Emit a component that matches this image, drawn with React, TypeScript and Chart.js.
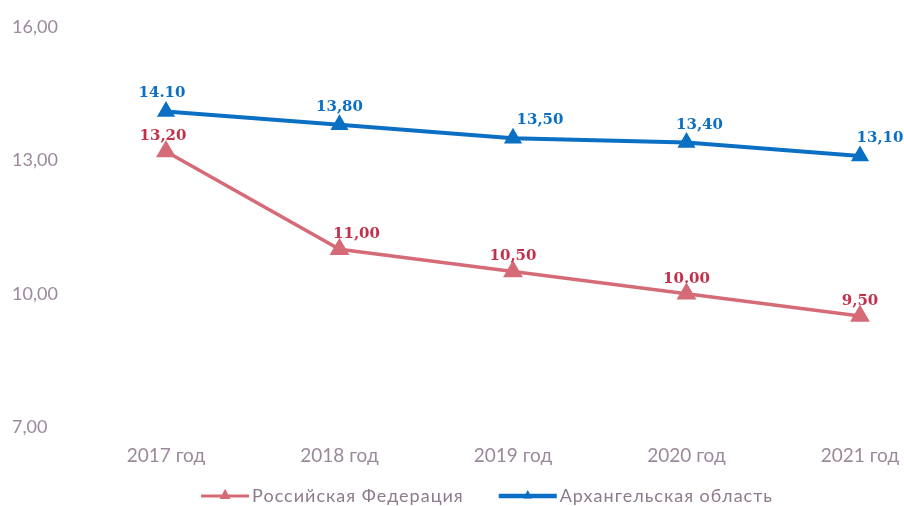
import React, { useEffect, useRef } from "react";
import { Chart, registerables } from "chart.js";

Chart.register(...registerables);

const categories = ["2017 год", "2018 год", "2019 год", "2020 год", "2021 год"];
const seriesRF = [13.2, 11.0, 10.5, 10.0, 9.5];
const seriesArh = [14.1, 13.8, 13.5, 13.4, 13.1];
const labelsRF = ["13,20", "11,00", "10,50", "10.00", "9,50"];
const labelsArh = ["14.10", "13,80", "13,50", "13,40", "13,10"];
const yTicks = [7, 10, 13, 16];
const yTickLabels = ["7,00", "10,00", "13,00", "16,00"];
const seriesNames = ["Российская Федерация", "Архангельская область"];

const RED_LINE = "#d66b78";
const RED_TEXT = "#c2314c";
const BLUE = "#0b6fc4";
const AXIS_TEXT = "#9a899a";

const labelStyle = [
  { color: RED_TEXT, dy: -15, dx: [-3, 17, 0, 0, 0] },
  { color: BLUE, dy: -18, dx: [-4, 0, 27, 13, 20] },
];

const dataLabelPlugin = {
  id: "dataLabels",
  afterDatasetsDraw(chart: any) {
    const ctx = chart.ctx;
    const texts = [labelsRF, labelsArh];
    ctx.save();
    ctx.font = "bold 15px 'DejaVu Serif'";
    ctx.textAlign = "center";
    ctx.textBaseline = "middle";
    chart.data.datasets.forEach((_ds: any, di: number) => {
      const meta = chart.getDatasetMeta(di);
      const st = labelStyle[di];
      ctx.fillStyle = st.color;
      meta.data.forEach((pt: any, i: number) => {
        ctx.fillText(texts[di][i], pt.x + st.dx[i], pt.y + st.dy);
      });
    });
    ctx.restore();
  },
};

const legendPlugin = {
  id: "customLegend",
  afterDraw(chart: any) {
    const ctx = chart.ctx;
    const lineWs = [48, 58];
    const gapText = 3;
    const gapItems = 35;
    ctx.save();
    ctx.font = "18px Lato";
    (ctx as any).letterSpacing = "1px";
    const widths = chart.data.datasets.map(
      (ds: any, i: number) => lineWs[i] + gapText + ctx.measureText(ds.label).width
    );
    const total = widths.reduce((a: number, b: number) => a + b, 0) + gapItems * (widths.length - 1);
    const cx = 487;
    const y = 496;
    let x = cx - total / 2;
    chart.data.datasets.forEach((ds: any, i: number) => {
      const lineW = lineWs[i];
      ctx.strokeStyle = ds.borderColor;
      ctx.lineWidth = i === 0 ? 3 : 4.5;
      ctx.beginPath();
      ctx.moveTo(x, y);
      ctx.lineTo(x + lineW, y);
      ctx.stroke();
      const r = i === 0 ? 6 : 5;
      const tx = x + lineW / 2;
      ctx.fillStyle = ds.borderColor;
      ctx.beginPath();
      ctx.moveTo(tx, y - r * 1.2);
      ctx.lineTo(tx + r * 0.9, y + r * 0.5);
      ctx.lineTo(tx - r * 0.9, y + r * 0.5);
      ctx.closePath();
      ctx.fill();
      ctx.fillStyle = "#8d7b8d";
      ctx.textAlign = "left";
      ctx.textBaseline = "middle";
      ctx.fillText(ds.label, x + lineW + gapText, y);
      x += widths[i] + gapItems;
    });
    ctx.restore();
  },
};

export default function App() {
  const ref = useRef<HTMLCanvasElement | null>(null);
  useEffect(() => {
    if (!ref.current) return;
    const chart = new Chart(ref.current, {
      type: "line",
      data: {
        labels: categories,
        datasets: [
          {
            label: seriesNames[0],
            data: seriesRF,
            borderColor: RED_LINE,
            backgroundColor: RED_LINE,
            borderWidth: 3.5,
            pointStyle: "triangle",
            pointRadius: 8,
            pointHoverRadius: 8,
            tension: 0,
          },
          {
            label: seriesNames[1],
            data: seriesArh,
            borderColor: BLUE,
            backgroundColor: BLUE,
            borderWidth: 4,
            pointStyle: "triangle",
            pointRadius: 6.5,
            pointHoverRadius: 6.5,
            tension: 0,
          },
        ],
      },
      options: {
        responsive: false,
        animation: false,
        layout: { padding: { left: 12, right: 44, top: 27, bottom: 22 } },
        plugins: {
          legend: { display: false },
          tooltip: { enabled: false },
        },
        scales: {
          x: {
            offset: false,
            grid: { display: false, drawTicks: false },
            border: { display: false },
            afterFit(scale: any) {
              scale.paddingLeft = 0;
              scale.paddingRight = 0;
            },
            ticks: {
              padding: 17,
              color: AXIS_TEXT,
              font: { family: "Lato", size: 19 },
              maxRotation: 0,
            },
          },
          y: {
            min: 7,
            max: 16,
            grid: { display: false, drawTicks: false },
            border: { display: false },
            afterFit(scale: any) {
              scale.width = 154;
            },
            afterBuildTicks(scale: any) {
              scale.ticks = yTicks.map((v) => ({ value: v }));
            },
            ticks: {
              crossAlign: "far",
              color: AXIS_TEXT,
              font: { family: "Lato", size: 18 },
              callback: (v: any) => {
                const i = yTicks.indexOf(Number(v));
                return i >= 0 ? yTickLabels[i] : "";
              },
            },
          },
        },
      },
      plugins: [dataLabelPlugin, legendPlugin],
    } as any);
    return () => chart.destroy();
  }, []);
  return (
    <div style={{ position: "absolute", left: 0, top: 0, width: 904, height: 506, background: "#fff" }}>
      <canvas ref={ref} width={904} height={506} style={{ width: 904, height: 506, display: "block" }} />
    </div>
  );
}
